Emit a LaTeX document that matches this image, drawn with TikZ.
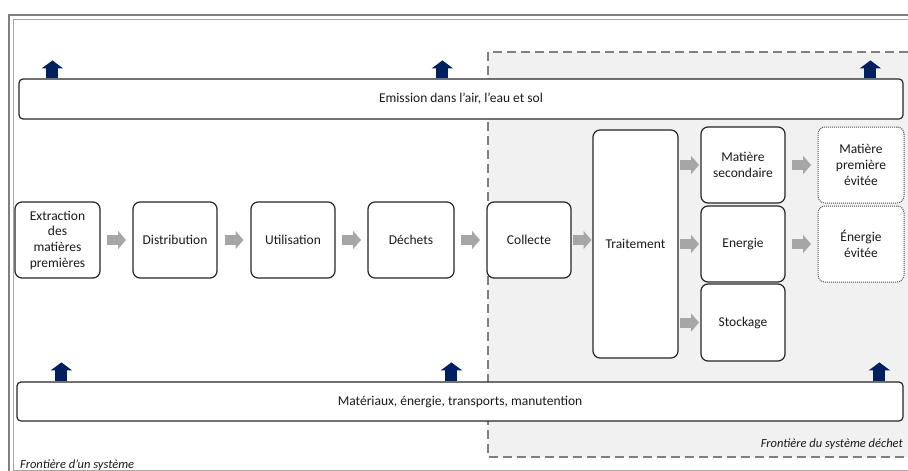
\documentclass[tikz,border=0pt]{standalone}
\usepackage{fontspec}
\setmainfont{Carlito}
\usetikzlibrary{arrows.meta,calc}
\definecolor{navyarr}{HTML}{002060}
\definecolor{grayarr}{HTML}{A6A6A6}
\definecolor{regionfill}{HTML}{F1F1F1}
\definecolor{boxline}{HTML}{262626}
\definecolor{txt}{HTML}{1A1A1A}
\definecolor{frameouter}{HTML}{7F7F7F}
\definecolor{frameinner}{HTML}{A6A6A6}
\definecolor{dashgray}{HTML}{7F7F7F}
\newcommand{\grayconn}[2]{%
  \path (#1) -- (#2) coordinate[pos=.5] (gm);
  \draw[grayflow] ([xshift=-9.5pt]gm) -- ([xshift=9.5pt]gm);}
\begin{document}
\begin{tikzpicture}[x=1pt,y=-1pt,
  proc/.style={draw=boxline, line width=1.2pt, fill=white, rounded corners=7pt,
    align=center, inner sep=0pt, text=txt, font=\fontsize{13.5}{15.7}\selectfont},
  avoided/.style={proc, draw=boxline!80, dash pattern=on 1pt off 1pt, line width=1pt},
  band/.style={draw=boxline, line width=1.2pt, fill=white, rounded corners=4pt,
    inner sep=0pt, text=txt, font=\fontsize{13.5}{15.7}\selectfont},
  grayflow/.style={grayarr, line width=10pt, -{Triangle[length=8pt,width=18pt]}},
  upflow/.style={navyarr, line width=12pt, -{Triangle[length=8pt,width=21pt]}},
  note/.style={text=txt, font=\fontsize{12.5}{14}\selectfont\itshape, inner sep=0pt}
]
\useasboundingbox (0,0) rectangle (908,471);
\clip (0,0) rectangle (908,471);
\fill[white] (0,0) rectangle (908,471);
% outer frame (double line)
\draw[frameouter, line width=2pt] (9,15) rectangle (1000,1000);
\draw[frameinner, line width=1pt] (13.5,19.5) rectangle (1000,470.5);
% waste system boundary
\draw[dashgray, line width=1.8pt, dash pattern=on 9pt off 5pt, fill=regionfill] (488,52) rectangle (1000,457);

% bands
\node[band, minimum width=884pt, minimum height=40pt] (emis) at (461,99) {Emission dans l’air, l’eau et sol};
\node[band, minimum width=886pt, minimum height=39pt] (mat) at (460,401.5) {Matériaux, énergie, transports, manutention};

% up arrows
\draw[upflow] ($(emis.north west)+(34,0)$) -- ++(0,-18);
\draw[upflow] ($(emis.north west)+(424,0)$) -- ++(0,-18);
\draw[upflow] ($(emis.north west)+(852,0)$) -- ++(0,-18);
\draw[upflow] ($(mat.north west)+(45,0)$) -- ++(0,-19);
\draw[upflow] ($(mat.north west)+(435,0)$) -- ++(0,-19);
\draw[upflow] ($(mat.north west)+(863,0)$) -- ++(0,-19);

% process boxes
\node[proc, minimum width=85pt, minimum height=76pt] (extr) at (57.5,240) {Extraction\\des\\matières\\premières};
\node[proc, minimum width=84pt, minimum height=76pt] (dist) at (175,240) {Distribution};
\node[proc, minimum width=84pt, minimum height=76pt] (util) at (293,240) {Utilisation};
\node[proc, minimum width=86pt, minimum height=76pt] (dech) at (411,240) {Déchets};
\node[proc, minimum width=84pt, minimum height=76pt] (coll) at (529,240) {Collecte};
\node[proc, minimum width=85pt, minimum height=228pt] (trait) at (635.5,244) {Traitement};
\node[proc, minimum width=84pt, minimum height=76pt] (msec) at (743,165) {Matière\\secondaire};
\node[proc, minimum width=84pt, minimum height=76pt] (ener) at (743,244) {Energie};
\node[proc, minimum width=84pt, minimum height=77pt] (stock) at (743,322.5) {Stockage};
\node[avoided, minimum width=86pt, minimum height=76pt] (mpe) at (861,165) {Matière\\première\\évitée};
\node[avoided, minimum width=86pt, minimum height=76pt] (eev) at (861,244) {Énergie\\évitée};

% gray flow arrows
\grayconn{extr.east}{dist.west}
\grayconn{dist.east}{util.west}
\grayconn{util.east}{dech.west}
\grayconn{dech.east}{coll.west}
\grayconn{coll.east}{trait.west |- coll.east}
\grayconn{trait.east |- msec.west}{msec.west}
\grayconn{trait.east |- ener.west}{ener.west}
\grayconn{trait.east |- stock.west}{stock.west}
\grayconn{msec.east}{mpe.west}
\grayconn{ener.east}{eev.west}

% boundary labels
\node[note, anchor=base east] (lwaste) at (903,447) {Frontière du système déchet};
\node[note, anchor=base west] (lsys) at (20,468) {Frontière d’un système};
\end{tikzpicture}
\end{document}
